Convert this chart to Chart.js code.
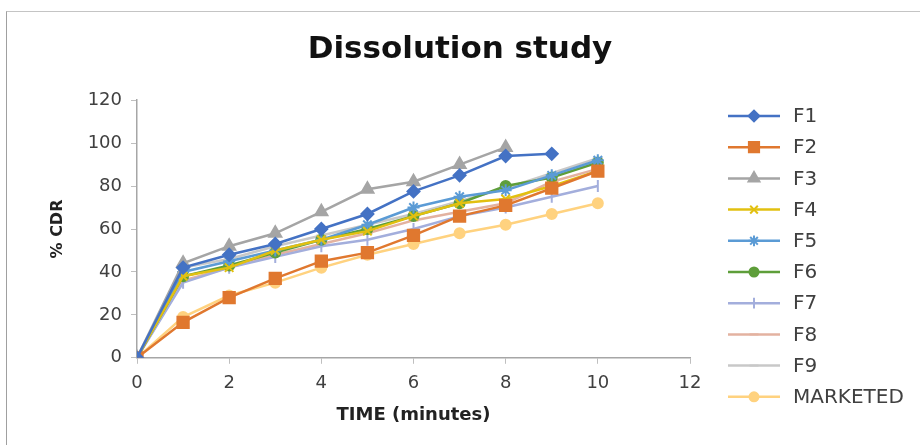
<!DOCTYPE html>
<html><head><meta charset="utf-8">
<script src="https://cdn.jsdelivr.net/npm/chart.js@4/dist/chart.umd.min.js"></script>
<style>
html,body{margin:0;padding:0;background:#fff;}
#wrap{position:absolute;left:0;top:0;width:920px;height:445px;}
#frame{position:absolute;left:6px;top:11px;width:914px;height:434px;border-top:1px solid #c4c4c4;border-left:1px solid #a0a0a0;}
canvas{position:absolute;left:0;top:0;}
</style></head><body>
<div id="wrap"><div id="frame"></div><canvas id="c" width="920" height="445" style="width:920px;height:445px"></canvas></div>
<script>
const time = [0,1,2,3,4,5,6,7,8,9,10];
const seriesNames = ['F1','F2','F3','F4','F5','F6','F7','F8','F9','MARKETED'];
const F1 = [0,42,48,53,60,67,77.5,85,94,95];
const F2 = [0,16.5,28,37,45,49,57,66,71,79,87];
const F3 = [0,44,52,58,68,78.5,82,90,98];
const F4 = [0,38,42,50,55,59,66,72,74,80,87];
const F5 = [0,40,45,50,55,62,70,75,78,85,92];
const F6 = [0,38,43,49,55,60,66,72,80,84,91];
const F7 = [0,35,42,47,52,55,60,66,70,75,80];
const F8 = [0,36,42,48,53,58,64,68,72,82,88];
const F9 = [0,42,46,52,57,62,67,73,79,86,93];
const MARKETED = [0,19,29,35,42,48,53,58,62,67,72];
const yTicks = [0,20,40,60,80,100,120];
const xTicks = [0,2,4,6,8,10,12];

const values = [F1,F2,F3,F4,F5,F6,F7,F8,F9,MARKETED];
const colors = ['#4472C4','#E0782F','#A5A5A5','#E2C010','#5B9BD5','#5E9E3A','#A3AEDC','#E3B2A0','#C8C8C8','#FFD27F'];
const styles = ['rectRot','rect','triangle','crossRot','star','circle','line','line','line','circle'];
const radii = [6,8,7,6,6,5,6,5,5,5];
const rotations = [0,0,0,0,0,0,90,0,0,0];

const datasets = seriesNames.map((n,i)=>({
  label:n,
  data: values[i].map((v,j)=>({x:time[j], y:v})),
  borderColor: colors[i], backgroundColor: colors[i],
  borderWidth: 2.5, pointStyle: styles[i], pointRadius: radii[i],
  pointRotation: rotations[i], pointBorderWidth: 2,
  tension: 0, fill:false, yAxisID:'y', xAxisID:'x'
}));

const FONT = '"DejaVu Sans", sans-serif';

const legendPlugin = {
  id:'customLegend',
  afterDraw(chart){
    const ctx = chart.ctx;
    ctx.save();
    seriesNames.forEach((n,i)=>{
      const y = 116 + i*31.2;
      ctx.strokeStyle = colors[i]; ctx.lineWidth = 2.5;
      ctx.beginPath(); ctx.moveTo(728,y); ctx.lineTo(780,y); ctx.stroke();
      ctx.fillStyle = colors[i]; ctx.strokeStyle = colors[i]; ctx.lineWidth = 2;
      Chart.helpers.drawPoint(ctx, {pointStyle: styles[i], radius: radii[i]*0.9, borderWidth:2, rotation: rotations[i]}, 754, y);
      ctx.fillStyle = '#404040';
      ctx.font = '20px ' + FONT;
      ctx.textBaseline = 'middle'; ctx.textAlign = 'left';
      ctx.fillText(n, 793, y+1);
    });
    ctx.restore();
  }
};

new Chart(document.getElementById('c'), {
  type:'line',
  data:{datasets},
  options:{
    responsive:false, animation:false,
    layout:{padding:{left:0,right:0,top:0,bottom:19}},
    plugins:{
      legend:{display:false},
      tooltip:{enabled:false},
      title:{display:true, text:'Dissolution study', color:'#111',
        font:{family:FONT, size:31, weight:'bold'}, padding:{top:31,bottom:32}}
    },
    scales:{
      x:{type:'linear', min:0, max:12, position:'bottom',
        afterBuildTicks: s => { s.ticks = xTicks.map(v=>({value:v})); },
        ticks:{color:'#404040', font:{family:FONT,size:18}, padding:9},
        grid:{display:true, drawOnChartArea:false, drawTicks:true, tickLength:6, color:'#bfbfbf'},
        border:{display:true, color:'#a6a6a6', width:1.5},
        title:{display:true, text:'TIME (minutes)', color:'#222', font:{family:FONT,size:18,weight:'bold'}, padding:{top:1,bottom:0}}
      },
      y:{type:'linear', min:0, max:120, position:'left',
        afterBuildTicks: s => { s.ticks = yTicks.map(v=>({value:v})); },
        afterFit: s => { s.width = 137; },
        ticks:{color:'#404040', font:{family:FONT,size:18}, padding:9},
        grid:{display:true, drawOnChartArea:false, drawTicks:true, tickLength:6, color:'#bfbfbf'},
        border:{display:true, color:'#a6a6a6', width:1.5},
        title:{display:true, text:'% CDR', color:'#222', font:{family:FONT,size:16,weight:'bold'}, padding:{top:48,bottom:0}}
      },
      yR:{type:'linear', position:'right', display:true,
        afterFit: s => { s.width = 230; },
        ticks:{display:false}, grid:{display:false}, border:{display:false}, title:{display:false}
      }
    }
  },
  plugins:[legendPlugin]
});
</script>
</body></html>
